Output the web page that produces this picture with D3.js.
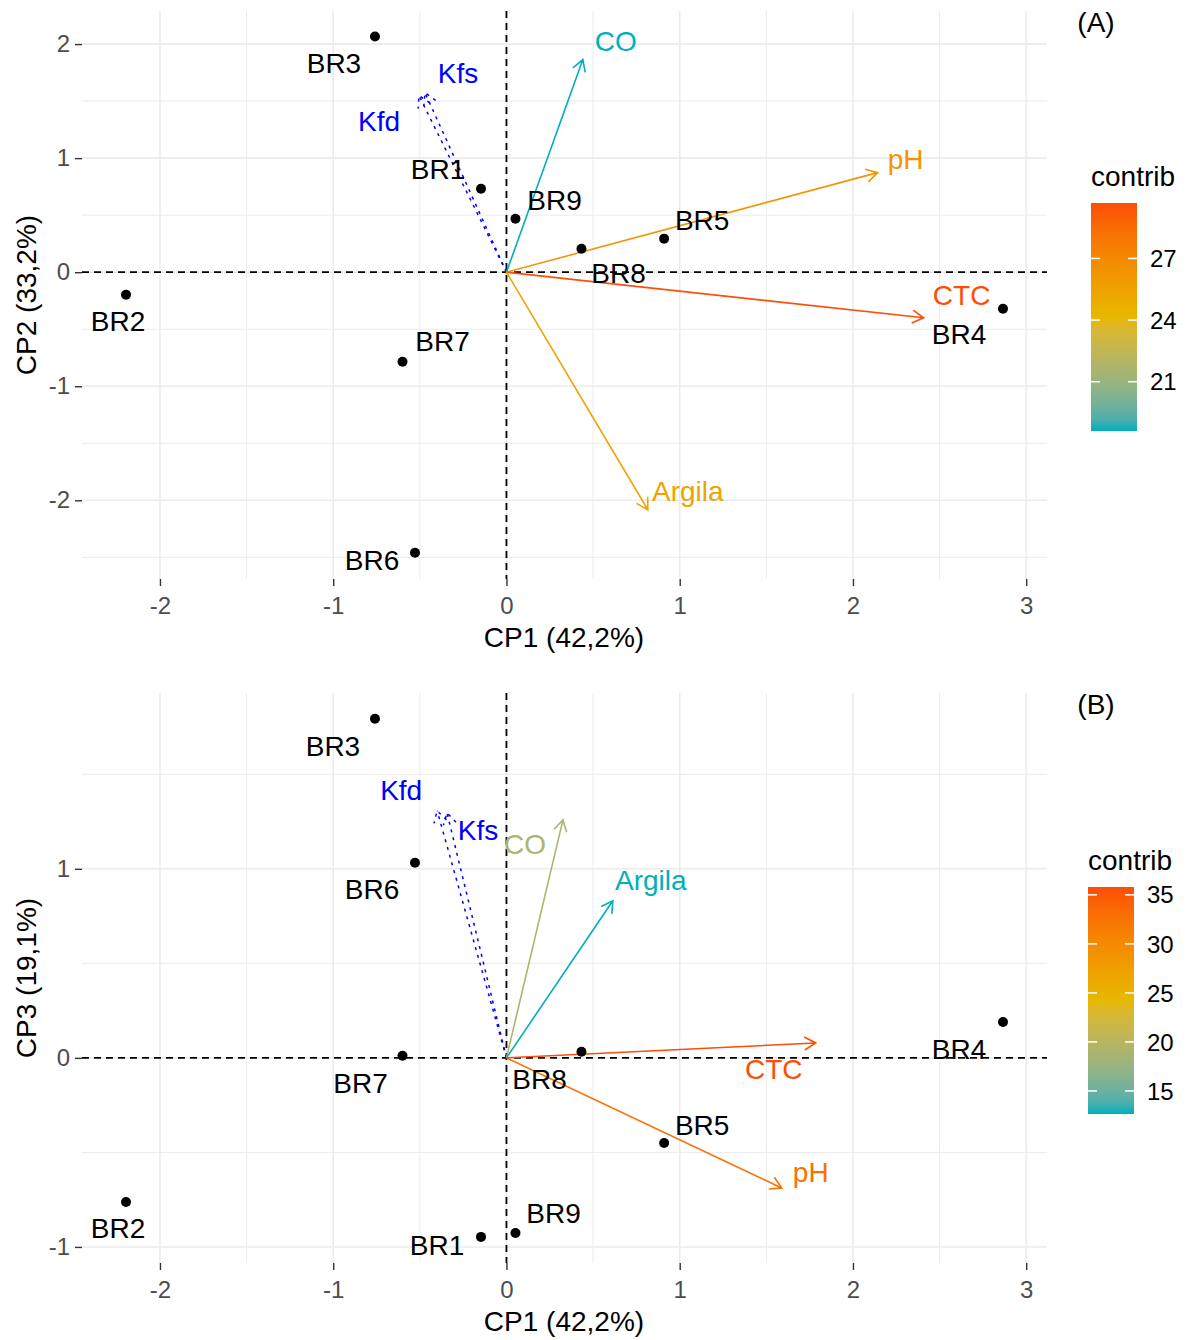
<!DOCTYPE html>
<html>
<head>
<meta charset="utf-8">
<script src="https://cdn.jsdelivr.net/npm/d3@7"></script>
<style>
  body { margin: 0; background: #fff; }
  svg text { font-family: "Liberation Sans", Arial, sans-serif; }
</style>
</head>
<body>
<svg width="1192" height="1340"></svg>
<script>
// individuals (scores)
const individuals = ["BR1", "BR2", "BR3", "BR4", "BR5", "BR6", "BR7", "BR8", "BR9"];
const cp1 = [-0.147, -2.196, -0.759, 2.866, 0.91, -0.528, -0.60, 0.433, 0.052];
const cp2 = [0.732, -0.197, 2.066, -0.32, 0.294, -2.46, -0.785, 0.206, 0.469];
const cp3 = [-0.947, -0.762, 1.794, 0.19, -0.45, 1.032, 0.011, 0.032, -0.926];

// active variables
const variables = ["CO", "pH", "CTC", "Argila"];
const varA_x = [0.441, 2.142, 2.408, 0.816];
const varA_y = [1.864, 0.873, -0.40, -2.083];
const contribA = [18.6, 26.3, 29.7, 25.4];
const varB_x = [0.326, 1.589, 1.785, 0.614];
const varB_y = [1.259, -0.688, 0.079, 0.831];
const contribB = [19.0, 32.55, 35.8, 12.65];

// supplementary variables
const supVariables = ["Kfs", "Kfd"];
const supA_x = [-0.47, -0.505];
const supA_y = [1.573, 1.548];
const supB_x = [-0.343, -0.40];
const supB_y = [1.296, 1.307];

const xTicks = [-2, -1, 0, 1, 2, 3];
const yTicksA = [-2, -1, 0, 1, 2];
const yTicksB = [-1, 0, 1];
const legendTicksA = [21, 24, 27];
const legendTicksB = [15, 20, 25, 30, 35];

// label offsets (px) from ggrepel-like placement
const indLabelA = {BR1: [-43, -20], BR2: [-8, 26], BR3: [-41, 26], BR4: [-44, 25], BR5: [38, -19],
                   BR6: [-43, 7], BR7: [40, -21], BR8: [37, 24], BR9: [39, -19]};
const indLabelB = {BR1: [-44, 8], BR2: [-8, 26], BR3: [-42, 27], BR4: [-44, 27], BR5: [38, -18],
                   BR6: [-43, 26], BR7: [-42, 27], BR8: [-42, 27], BR9: [38, -20]};
const varLabelA = {CO: [33, -19], pH: [28, -14], CTC: [38, -23], Argila: [40, -19], Kfs: [33, -20], Kfd: [-40, 25]};
const varLabelB = {CO: [-38, 24], pH: [29, -16], CTC: [-42, 26], Argila: [38, -21], Kfs: [31, 17], Kfd: [-36, -21]};

const gradCols = ["#00AFBB", "#E7B800", "#FC4E07"];
const svg = d3.select("svg");

function drawPanel(cfg) {
    const x = d3.scaleLinear().domain([-2.45, 3.12]).range([82, 1047]);
    const y = d3.scaleLinear().domain(cfg.yDomain).range([cfg.bottom, cfg.top]);
    const g = svg.append("g");

    const cMin = d3.min(cfg.contrib), cMax = d3.max(cfg.contrib);
    const color = d3.scaleLinear()
        .domain([cMin, (cMin + cMax) / 2, cMax])
        .range(gradCols)
        .interpolate(d3.interpolateLab);

    // grid
    const xMinor = d3.range(-2.5, 3.2, 1).filter(v => v > -2.45 && v < 3.12);
    const yMinor = d3.range(Math.floor(cfg.yDomain[0]) + 0.5, cfg.yDomain[1], 1).filter(v => v > cfg.yDomain[0]);
    g.selectAll(".gxm").data(xMinor).enter().append("line")
        .attr("x1", d => x(d)).attr("x2", d => x(d)).attr("y1", cfg.top).attr("y2", cfg.bottom)
        .attr("stroke", "#ebebeb").attr("stroke-width", 1);
    g.selectAll(".gym").data(yMinor).enter().append("line")
        .attr("y1", d => y(d)).attr("y2", d => y(d)).attr("x1", 82).attr("x2", 1047)
        .attr("stroke", "#ebebeb").attr("stroke-width", 1);
    g.selectAll(".gx").data(xTicks).enter().append("line")
        .attr("x1", d => x(d)).attr("x2", d => x(d)).attr("y1", cfg.top).attr("y2", cfg.bottom)
        .attr("stroke", "#ebebeb").attr("stroke-width", 1.6);
    g.selectAll(".gy").data(cfg.yTicks).enter().append("line")
        .attr("y1", d => y(d)).attr("y2", d => y(d)).attr("x1", 82).attr("x2", 1047)
        .attr("stroke", "#ebebeb").attr("stroke-width", 1.6);

    // axes
    const xAxis = g.append("g").attr("transform", `translate(0,${cfg.bottom})`)
        .call(d3.axisBottom(x).tickValues(xTicks).tickSize(7).tickPadding(11).tickFormat(d3.format("d")));
    const yAxis = g.append("g").attr("transform", "translate(82,0)")
        .call(d3.axisLeft(y).tickValues(cfg.yTicks).tickSize(7).tickPadding(5).tickFormat(d3.format("d")));
    [xAxis, yAxis].forEach(a => {
        a.select(".domain").remove();
        a.selectAll(".tick line").attr("stroke", "#333").attr("stroke-width", 1.4);
        a.selectAll(".tick text").attr("fill", "#4d4d4d").attr("font-size", 24)
            .text(d => d < 0 ? "-" + Math.abs(d) : d);
    });

    // zero lines
    g.append("line").attr("x1", 82).attr("x2", 1047).attr("y1", y(0)).attr("y2", y(0))
        .attr("stroke", "#000").attr("stroke-width", 1.8).attr("stroke-dasharray", "7,5");
    g.append("line").attr("x1", x(0)).attr("x2", x(0)).attr("y1", cfg.top).attr("y2", cfg.bottom)
        .attr("stroke", "#000").attr("stroke-width", 1.8).attr("stroke-dasharray", "7,5");

    function arrowPath(x1, y1) {
        const x0 = x(0), y0 = y(0);
        const px = x(x1), py = y(y1);
        const a = Math.atan2(py - y0, px - x0);
        const L = 13, s = Math.PI / 6;
        return `M${x0},${y0}L${px},${py}` +
            `M${px - L * Math.cos(a - s)},${py - L * Math.sin(a - s)}L${px},${py}` +
            `L${px - L * Math.cos(a + s)},${py - L * Math.sin(a + s)}`;
    }

    // supplementary variables
    const sup = cfg.supX.map((v, i) => ({name: supVariables[i], x: v, y: cfg.supY[i]}));
    g.selectAll(".sup").data(sup).enter().append("path")
        .attr("d", d => arrowPath(d.x, d.y))
        .attr("fill", "none").attr("stroke", "blue").attr("stroke-width", 1.5)
        .attr("stroke-dasharray", "3,5");

    // active variables
    const vars = cfg.varX.map((v, i) => ({name: variables[i], x: v, y: cfg.varY[i], c: cfg.contrib[i]}));
    g.selectAll(".var").data(vars).enter().append("path")
        .attr("d", d => arrowPath(d.x, d.y))
        .attr("fill", "none").attr("stroke", d => color(d.c)).attr("stroke-width", 1.6);

    // individuals
    const inds = individuals.map((n, i) => ({name: n, x: cp1[i], y: cfg.indY[i]}));
    g.selectAll(".pt").data(inds).enter().append("circle")
        .attr("cx", d => x(d.x)).attr("cy", d => y(d.y)).attr("r", 5).attr("fill", "#000");
    g.selectAll(".ptl").data(inds).enter().append("text")
        .attr("x", d => x(d.x) + cfg.indLabel[d.name][0])
        .attr("y", d => y(d.y) + cfg.indLabel[d.name][1])
        .attr("text-anchor", "middle").attr("dy", "0.36em")
        .attr("font-size", 28).attr("fill", "#000").text(d => d.name);

    // variable labels
    g.selectAll(".vl").data(vars).enter().append("text")
        .attr("x", d => x(d.x) + cfg.varLabel[d.name][0])
        .attr("y", d => y(d.y) + cfg.varLabel[d.name][1])
        .attr("text-anchor", "middle").attr("dy", "0.36em")
        .attr("font-size", 28).attr("fill", d => color(d.c)).text(d => d.name);
    g.selectAll(".sl").data(sup).enter().append("text")
        .attr("x", d => x(d.x) + cfg.varLabel[d.name][0])
        .attr("y", d => y(d.y) + cfg.varLabel[d.name][1])
        .attr("text-anchor", "middle").attr("dy", "0.36em")
        .attr("font-size", 28).attr("fill", "blue").text(d => d.name);

    // axis titles
    g.append("text").attr("x", 564).attr("y", cfg.bottom + 68).attr("text-anchor", "middle")
        .attr("font-size", 28).text("CP1 (42,2%)");
    g.append("text").attr("transform", `translate(36,${(cfg.top + cfg.bottom) / 2}) rotate(-90)`)
        .attr("text-anchor", "middle").attr("font-size", 28).text(cfg.yTitle);

    // panel tag
    g.append("text").attr("x", 1096).attr("y", cfg.top + 21).attr("text-anchor", "middle")
        .attr("font-size", 28).text(cfg.tag);

    // colour bar legend
    const lg = cfg.legend;
    const gid = "grad" + cfg.tag.replace(/\W/g, "");
    const grad = svg.append("defs").append("linearGradient").attr("id", gid)
        .attr("x1", 0).attr("y1", 1).attr("x2", 0).attr("y2", 0);
    d3.range(0, 1.0001, 0.05).forEach(t => {
        grad.append("stop").attr("offset", t).attr("stop-color", color(cMin + t * (cMax - cMin)));
    });
    const ly = d3.scaleLinear().domain([cMin, cMax]).range([lg.y1, lg.y0]);
    g.append("text").attr("x", lg.x).attr("y", lg.y0 - 17).attr("font-size", 28).text("contrib");
    g.append("rect").attr("x", lg.x).attr("y", lg.y0).attr("width", 46).attr("height", lg.y1 - lg.y0)
        .attr("fill", `url(#${gid})`);
    const lt = g.selectAll(".lt").data(cfg.legendTicks).enter().append("g");
    lt.append("line").attr("x1", lg.x).attr("x2", lg.x + 9).attr("y1", d => ly(d)).attr("y2", d => ly(d))
        .attr("stroke", "#fff").attr("stroke-width", 1.5);
    lt.append("line").attr("x1", lg.x + 37).attr("x2", lg.x + 46).attr("y1", d => ly(d)).attr("y2", d => ly(d))
        .attr("stroke", "#fff").attr("stroke-width", 1.5);
    lt.append("text").attr("x", lg.x + 59).attr("y", d => ly(d)).attr("dy", "0.36em")
        .attr("font-size", 24).attr("fill", "#000").text(d => d);
}

drawPanel({
    top: 11, bottom: 579, yDomain: [-2.69, 2.29], yTicks: yTicksA, indY: cp2,
    varX: varA_x, varY: varA_y, contrib: contribA, supX: supA_x, supY: supA_y,
    indLabel: indLabelA, varLabel: varLabelA, yTitle: "CP2 (33,2%)", tag: "(A)",
    legend: {x: 1091, y0: 203, y1: 431}, legendTicks: legendTicksA
});
drawPanel({
    top: 693, bottom: 1263, yDomain: [-1.085, 1.93], yTicks: yTicksB, indY: cp3,
    varX: varB_x, varY: varB_y, contrib: contribB, supX: supB_x, supY: supB_y,
    indLabel: indLabelB, varLabel: varLabelB, yTitle: "CP3 (19,1%)", tag: "(B)",
    legend: {x: 1088, y0: 887, y1: 1114}, legendTicks: legendTicksB
});
</script>
</body>
</html>
